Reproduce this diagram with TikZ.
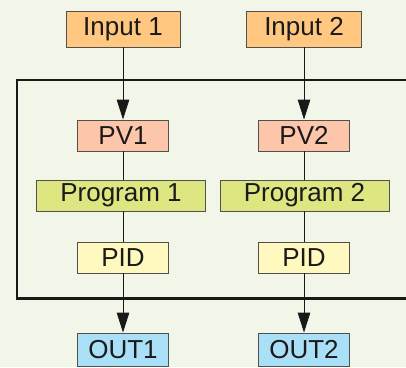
\documentclass[tikz,border=0pt]{standalone}
\usepackage{fontspec}
\setmainfont{Liberation Sans}
\usetikzlibrary{arrows.meta}
\definecolor{bg}{HTML}{F1F6E8}
\definecolor{inc}{HTML}{FFC77F}
\definecolor{pvc}{HTML}{FDC6AA}
\definecolor{prc}{HTML}{DDE680}
\definecolor{pidc}{HTML}{FFF9C0}
\definecolor{outc}{HTML}{A9E0F8}
\definecolor{boxline}{HTML}{505050}
\definecolor{textc}{HTML}{1A1A1A}
\begin{document}
\begin{tikzpicture}[x=1pt,y=-1pt,
  box/.style={draw=boxline, line width=0.9pt, inner sep=0pt, text=textc,
    font=\fontsize{26}{26}\selectfont, anchor=center},
  arr/.style={line width=0.9pt, draw=black!90, -{Triangle[length=20pt,width=12.5pt]}},
  link/.style={line width=0.9pt, draw=black!90}]
\useasboundingbox (0,0) rectangle (406,367);
\clip (0,0) rectangle (406,367);
\fill[bg] (0,0) rectangle (406,367);
\draw[line width=2.4pt, draw=black!90] (420,80) -- (17,80) -- (17,298.5) -- (420,298.5);
\node[box, fill=inc, minimum width=114pt, minimum height=36pt] (in1) at (123,29) {Input 1};
\node[box, fill=inc, minimum width=115pt, minimum height=36pt] (in2) at (304,29) {Input 2};
\node[box, fill=pvc, minimum width=91pt, minimum height=31pt] (pv1) at (123,135.5) {PV1};
\node[box, fill=pvc, minimum width=91pt, minimum height=31pt] (pv2) at (304,135.5) {PV2};
\node[box, fill=prc, minimum width=169pt, minimum height=31pt] (pr1) at (121,195.5) {Program 1};
\node[box, fill=prc, minimum width=169pt, minimum height=31pt] (pr2) at (304.5,195.5) {Program 2};
\node[box, fill=pidc, minimum width=91pt, minimum height=31pt] (pid1) at (123,257.5) {PID};
\node[box, fill=pidc, minimum width=91pt, minimum height=31pt] (pid2) at (304,257.5) {PID};
\node[box, fill=outc, minimum width=91pt, minimum height=33pt] (out1) at (123,349.5) {OUT1};
\node[box, fill=outc, minimum width=91pt, minimum height=33pt] (out2) at (304,349.5) {OUT2};
\draw[arr] (in1.south) -- (pv1.north);
\draw[arr] (in2.south) -- (pv2.north);
\draw[link] (pv1.south) -- (pv1.south |- pr1.north);
\draw[link] (pv2.south) -- (pv2.south |- pr2.north);
\draw[link] (pid1.north |- pr1.south) -- (pid1.north);
\draw[link] (pid2.north |- pr2.south) -- (pid2.north);
\draw[arr] (pid1.south) -- (out1.north);
\draw[arr] (pid2.south) -- (out2.north);
\end{tikzpicture}
\end{document}
